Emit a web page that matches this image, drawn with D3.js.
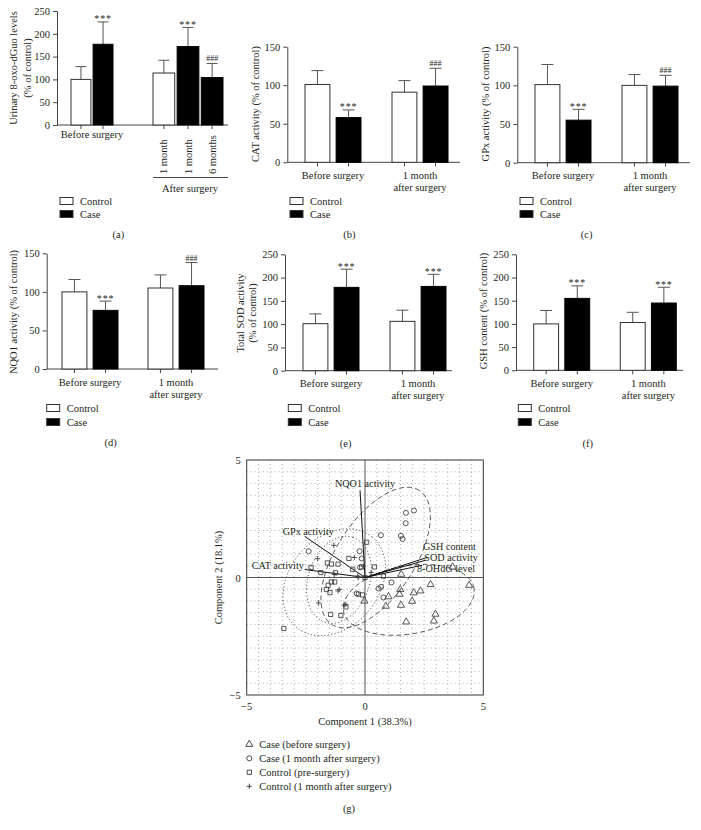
<!DOCTYPE html>
<html><head><meta charset="utf-8">
<script src="https://cdn.jsdelivr.net/npm/d3@7"></script>
<style>
body{margin:0;background:#fff}
svg{font-family:"Liberation Serif","Times New Roman",serif;}
</style>
</head><body>
<svg id="c" width="701" height="830"></svg>
<script>
// ---------------- DATA ----------------
const seriesNames = ["Control", "Case"];
const groupsTwo = ["Before surgery", "1 month after surgery"];

// (a) Urinary 8-oxo-dGuo
const aGroups = ["Before surgery", "After surgery"];
const aBarGroup = ["Before surgery", "Before surgery", "After surgery", "After surgery", "After surgery"];
const aBarSeries = ["Control", "Case", "Control", "Case", "Case"];
const aBarTick = ["", "", "1 month", "1 month", "6 months"];
const aValues = [100, 177, 114, 172, 104];
const aSD = [28, 49, 28, 42, 31];
const aMarks = ["", "***", "", "***", "###"];

// (b) CAT
const catControl = [101, 91], catControlSD = [18, 15];
const catCase = [58, 99], catCaseSD = [10, 23];
const catMarks = ["***", "###"];
// (c) GPx
const gpxControl = [101, 100], gpxControlSD = [26, 14];
const gpxCase = [55, 99], gpxCaseSD = [14, 14];
const gpxMarks = ["***", "###"];
// (d) NQO1
const nqoControl = [100, 105], nqoControlSD = [16, 17];
const nqoCase = [76, 108], nqoCaseSD = [12, 30];
const nqoMarks = ["***", "###"];
// (e) SOD
const sodControl = [101, 106], sodControlSD = [21, 24];
const sodCase = [179, 181], sodCaseSD = [39, 26];
const sodMarks = ["***", "***"];
// (f) GSH
const gshControl = [100, 103], gshControlSD = [29, 22];
const gshCase = [155, 145], gshCaseSD = [27, 34];
const gshMarks = ["***", "***"];

// (g) PCA
const pcaGroups = ["Case (before surgery)", "Case (1 month after surgery)", "Control (pre-surgery)", "Control (1 month after surgery)"];
const caseBeforeX = [1.53, 2.77, 4.4, 1.49, 1.46, 2.06, 2.34, 0.99, 0.88, 1.52, 1.99, -0.03, 2.98, 2.91, 1.74, 3.7];
const caseBeforeY = [0.14, -0.3, -0.33, -0.51, -0.71, -0.65, -0.57, -0.82, -1.22, -1.18, -1.01, -1.0, -1.56, -1.85, -1.89, 0.45];
const caseAfterX = [1.73, 2.07, 1.72, 0.67, 1.52, 1.59, -0.23, -0.14, 1.12, 0.68, 0.57, -0.35, 0.78, -2.38, -0.21];
const caseAfterY = [2.75, 2.85, 2.31, 1.8, 1.77, 1.64, 1.12, 0.81, -0.21, -0.4, -0.47, -0.68, -0.85, 1.12, 0.43];
const controlPreX = [0.07, -1.59, -1.42, -1.14, -2.28, -1.87, -1.25, -0.52, -0.14, 0.4, 0.0, -1.42, -1.28, -1.56, -1.63, -1.48, -0.28, -0.11, -0.81, -1.45, -1.02, -3.43, 0.78, -0.68];
const controlPreY = [1.5, 0.62, 0.57, 0.57, 0.43, 0.21, 0.2, 0.35, 0.45, 0.45, 0.0, -0.19, -0.19, -0.33, -0.51, -0.64, -0.71, -0.74, -1.25, -1.57, -1.62, -2.17, 0.06, 0.81];
const controlAfterX = [-1.32, -0.45, -2.0, -1.3, 0.26, -0.28, -1.09, -1.14, -0.81, -1.96, -0.88, -0.07, -0.31];
const controlAfterY = [1.37, 0.85, 0.8, 0.13, 0.21, 0.0, -0.51, -0.57, -1.14, -1.08, -1.18, 0.48, 0.06];
// confidence ellipses (centre, semi-axes, angle in degrees)
const ellCX = [1.85, 0.45, -1.3, -1.1];
const ellCY = [-0.95, 0.85, -0.2, -0.1];
const ellA = [2.8, 3.4, 2.5, 1.9];
const ellB = [1.45, 1.65, 1.9, 1.3];
const ellAngle = [10, 57, 50, 72];
// loadings
const loadNames = ["NQO1 activity", "GPx activity", "CAT activity", "GSH content", "SOD activity", "8-OHdG level"];
const loadX = [-0.21, -2.55, -2.55, 2.62, 2.55, 2.41];
const loadY = [3.71, 1.75, 0.34, 0.85, 0.73, 0.52];
const gTicks = [-5, 0, 5];

// ---------------- DRAW ----------------
const svg = d3.select("#c");
const INK = "#231f20";
const FS = 10.5;

function rotText(x, y, txt, size) {
  svg.append("text").attr("transform", `translate(${x},${y}) rotate(-90)`)
    .attr("text-anchor", "middle").attr("dominant-baseline", "central")
    .attr("font-size", size || FS).attr("fill", INK).text(txt);
}
function text(x, y, txt, anchor, size) {
  return svg.append("text").attr("x", x).attr("y", y).attr("text-anchor", anchor || "middle")
    .attr("font-size", size || FS).attr("fill", INK).text(txt);
}
function yAxis(cfg) {
  const y = d3.scaleLinear().domain([0, cfg.yMax]).range([cfg.y0, cfg.yTop]);
  const ax = svg.append("g").attr("transform", `translate(${cfg.axisX},0)`)
    .call(d3.axisLeft(y).tickValues(d3.range(0, cfg.yMax + 1, 50)).tickSize(4).tickSizeOuter(0).tickPadding(3));
  ax.selectAll("path,line").attr("stroke", "#444");
  ax.selectAll("text").attr("font-size", FS).attr("fill", INK).attr("font-family", "Liberation Serif");
  svg.append("line").attr("x1", cfg.axisX).attr("x2", cfg.axisEnd).attr("y1", cfg.y0).attr("y2", cfg.y0).attr("stroke", "#444");
  return y;
}
function bar(x, w, y, v, sd, series, mark, cap, y0) {
  const top = y(v), et = y(v + sd);
  svg.append("line").attr("x1", x).attr("x2", x).attr("y1", top).attr("y2", et).attr("stroke", "#555");
  svg.append("line").attr("x1", x - cap / 2).attr("x2", x + cap / 2).attr("y1", et).attr("y2", et).attr("stroke", "#555");
  svg.append("rect").attr("x", x - w / 2).attr("y", top).attr("width", w).attr("height", y0 - top)
    .attr("fill", series === "Case" ? "#000" : "#fff").attr("stroke", series === "Case" ? "#000" : "#333").attr("stroke-width", 1);
  svg.append("line").attr("x1", x).attr("x2", x).attr("y1", y0).attr("y2", y0 + 4).attr("stroke", "#444");
  if (mark === "***") text(x, et + 0.5, mark, "middle", 10).attr("letter-spacing", 0.8);
  else if (mark) text(x, et - 2, mark, "middle", 8);
}
function legend(lx, rows) {
  seriesNames.forEach((s, i) => {
    svg.append("rect").attr("x", lx).attr("y", rows[i] - 3.5).attr("width", 13).attr("height", 7)
      .attr("fill", s === "Case" ? "#000" : "#fff").attr("stroke", "#333");
    text(lx + 20, rows[i] + 3.8, s, "start");
  });
}
function barPanel(cfg, ctrl, ctrlSD, cs, csSD, marks) {
  const y = yAxis(cfg);
  const gx = d3.scalePoint().domain(groupsTwo).range(cfg.groupX);
  const inner = d3.scaleBand().domain(seriesNames).range([-28, 28]).paddingInner(0.2);
  const w = inner.bandwidth();
  groupsTwo.forEach((g, i) => {
    bar(gx(g) + inner("Control") + w / 2, w, y, ctrl[i], ctrlSD[i], "Control", "", 12, cfg.y0);
    bar(gx(g) + inner("Case") + w / 2, w, y, cs[i], csSD[i], "Case", marks[i], 12, cfg.y0);
  });
  text(gx(groupsTwo[0]), cfg.y0 + 16.5, "Before surgery");
  text(gx(groupsTwo[1]), cfg.y0 + 16.5, "1 month");
  text(gx(groupsTwo[1]), cfg.y0 + 28.5, "after surgery");
  cfg.ylabel.forEach((t, i) => rotText(cfg.ylabelX[i], cfg.ylabelY, t));
  legend(cfg.legendX, cfg.legendY);
  text(cfg.tagX, cfg.tagY + 4, cfg.tag);
}

// (a)
(function () {
  const cfg = { axisX: 57, y0: 125, yTop: 11, yMax: 250, axisEnd: 228 };
  const y = yAxis(cfg);
  const groupRange = { "Before surgery": [71, 113], "After surgery": [153, 223] };
  aGroups.forEach(g => {
    const idx = d3.range(aValues.length).filter(i => aBarGroup[i] === g);
    const sc = d3.scaleBand().domain(idx).range(groupRange[g]).paddingInner(0.1);
    idx.forEach(i => {
      const cx = sc(i) + sc.bandwidth() / 2;
      bar(cx, sc.bandwidth(), y, aValues[i], aSD[i], aBarSeries[i], aMarks[i], 11, cfg.y0);
      if (aBarTick[i]) {
        svg.append("text").attr("transform", `translate(${cx + 3.5},174) rotate(-90)`)
          .attr("text-anchor", "start").attr("font-size", FS).attr("fill", INK).text(aBarTick[i]);
      }
    });
  });
  text(92, cfg.y0 + 13, "Before surgery");
  svg.append("line").attr("x1", 153).attr("x2", 228).attr("y1", 177.5).attr("y2", 177.5).attr("stroke", "#444");
  text(190, 191.5, "After surgery");
  rotText(13, 68, "Urinary 8-oxo-dGuo levels");
  rotText(27.5, 68, "(% of control)");
  legend(60, [201, 214]);
  text(118.3, 238, "(a)");
})();

barPanel({ axisX: 287.3, y0: 162.3, yTop: 46.7, yMax: 150, groupX: [333, 420], axisEnd: 460,
  ylabel: ["CAT activity (% of control)"], ylabelX: [255], ylabelY: 104, legendX: 290, legendY: [201, 214],
  tag: "(b)", tagX: 349.3, tagY: 234 }, catControl, catControlSD, catCase, catCaseSD, catMarks);
barPanel({ axisX: 517.3, y0: 162.7, yTop: 46.7, yMax: 150, groupX: [563, 650], axisEnd: 690,
  ylabel: ["GPx activity (% of control)"], ylabelX: [485], ylabelY: 104, legendX: 520, legendY: [201, 214],
  tag: "(c)", tagX: 586.7, tagY: 234 }, gpxControl, gpxControlSD, gpxCase, gpxCaseSD, gpxMarks);
barPanel({ axisX: 46.7, y0: 369, yTop: 253.3, yMax: 150, groupX: [90, 176], axisEnd: 218,
  ylabel: ["NQO1 activity (% of control)"], ylabelX: [13.3], ylabelY: 312, legendX: 46.7, legendY: [408, 422],
  tag: "(d)", tagX: 110.7, tagY: 442 }, nqoControl, nqoControlSD, nqoCase, nqoCaseSD, nqoMarks);
barPanel({ axisX: 285, y0: 370.7, yTop: 254.3, yMax: 250, groupX: [331, 418], axisEnd: 452,
  ylabel: ["Total SOD activity", "(% of control)"], ylabelX: [240, 252], ylabelY: 313, legendX: 288.3, legendY: [408, 422],
  tag: "(e)", tagX: 345.7, tagY: 443 }, sodControl, sodControlSD, sodCase, sodCaseSD, sodMarks);
barPanel({ axisX: 516, y0: 370.3, yTop: 254.3, yMax: 250, groupX: [561.7, 648.3], axisEnd: 683,
  ylabel: ["GSH content (% of control)"], ylabelX: [483.3], ylabelY: 311, legendX: 518.3, legendY: [408, 422],
  tag: "(f)", tagX: 587.7, tagY: 443 }, gshControl, gshControlSD, gshCase, gshCaseSD, gshMarks);

// (g)
(function () {
  const gx = d3.scaleLinear().domain([-5, 5]).range([246.7, 483.3]);
  const gy = d3.scaleLinear().domain([-5, 5]).range([695, 460]);
  const grid = d3.range(-4.5, 5, 0.5).filter(v => Math.abs(v) > 1e-9);
  grid.forEach(v => {
    svg.append("line").attr("x1", gx(v)).attr("x2", gx(v)).attr("y1", gy(5)).attr("y2", gy(-5))
      .attr("stroke", "#9a9a9a").attr("stroke-width", 0.8).attr("stroke-dasharray", "1,3");
    svg.append("line").attr("y1", gy(v)).attr("y2", gy(v)).attr("x1", gx(-5)).attr("x2", gx(5))
      .attr("stroke", "#9a9a9a").attr("stroke-width", 0.8).attr("stroke-dasharray", "1,3");
  });
  svg.append("rect").attr("x", gx(-5)).attr("y", gy(5)).attr("width", gx(5) - gx(-5)).attr("height", gy(-5) - gy(5))
    .attr("fill", "none").attr("stroke", "#333").attr("stroke-width", 1);
  svg.append("line").attr("x1", gx(0)).attr("x2", gx(0)).attr("y1", gy(5)).attr("y2", gy(-5)).attr("stroke", "#555");
  svg.append("line").attr("x1", gx(-5)).attr("x2", gx(5)).attr("y1", gy(0)).attr("y2", gy(0)).attr("stroke", "#555");

  // ellipses
  const dashes = ["5,3", "5,3", "1.2,2.2", "1.2,2.2"];
  ellCX.forEach((cx, i) => {
    const th = ellAngle[i] * Math.PI / 180;
    const pts = d3.range(0, 2 * Math.PI + 0.01, 0.04).map(t => {
      const ex = ellA[i] * Math.cos(t), ey = ellB[i] * Math.sin(t);
      return [gx(cx + ex * Math.cos(th) - ey * Math.sin(th)), gy(ellCY[i] + ex * Math.sin(th) + ey * Math.cos(th))];
    });
    svg.append("path").attr("d", d3.line()(pts) + "Z").attr("fill", "none")
      .attr("stroke", "#444").attr("stroke-width", 0.9).attr("stroke-dasharray", dashes[i]);
  });

  // loadings
  loadNames.forEach((n, i) => {
    svg.append("line").attr("x1", gx(0)).attr("y1", gy(0)).attr("x2", gx(loadX[i])).attr("y2", gy(loadY[i]))
      .attr("stroke", "#111").attr("stroke-width", 1);
  });
  // label offsets: [dx, dy, anchor]
  const lblPos = [[5, -3, "middle"], [-22, -1, "start"], [-53, -1, "start"], [-4, -7.5, "start"], [-1, 0.5, "start"], [-5, 7, "start"]];
  loadNames.forEach((n, i) => {
    const p = lblPos[i];
    text(gx(loadX[i]) + p[0], gy(loadY[i]) + p[1], n, p[2], 10.2);
  });

  // points
  const sym = {
    tri: d3.symbol().type(d3.symbolTriangle).size(22)(),
    cir: d3.symbol().type(d3.symbolCircle).size(20)(),
    sq: d3.symbol().type(d3.symbolSquare).size(18)(),
    plus: "M-2.6,0H2.6M0,-2.6V2.6"
  };
  const sets = [[caseBeforeX, caseBeforeY, "tri"], [caseAfterX, caseAfterY, "cir"], [controlPreX, controlPreY, "sq"], [controlAfterX, controlAfterY, "plus"]];
  sets.forEach(([xs, ys, s]) => {
    xs.forEach((v, i) => {
      svg.append("path").attr("d", sym[s]).attr("transform", `translate(${gx(v)},${gy(ys[i])})`)
        .attr("fill", "none").attr("stroke", "#444").attr("stroke-width", 0.9);
    });
  });

  // ticks
  gTicks.forEach(t => {
    text(gx(-5) - 6, gy(t) + 4, t < 0 ? "\u22125" : String(t), "end");
    text(gx(t), gy(-5) + 15, t < 0 ? "\u22125" : String(t), "middle");
  });
  text(gx(0), 724.5, "Component 1 (38.3%)");
  rotText(218, gy(0), "Component 2 (18.1%)");

  // legend
  const legSyms = ["tri", "cir", "sq", "plus"];
  pcaGroups.forEach((g, i) => {
    const yy = 744.3 + i * 14;
    svg.append("path").attr("d", sym[legSyms[i]]).attr("transform", `translate(249.3,${yy})`)
      .attr("fill", "none").attr("stroke", "#333").attr("stroke-width", 0.9);
    text(259.3, yy + 3.8, g, "start");
  });
  text(349, 812, "(g)");
})();
</script>
</body></html>
